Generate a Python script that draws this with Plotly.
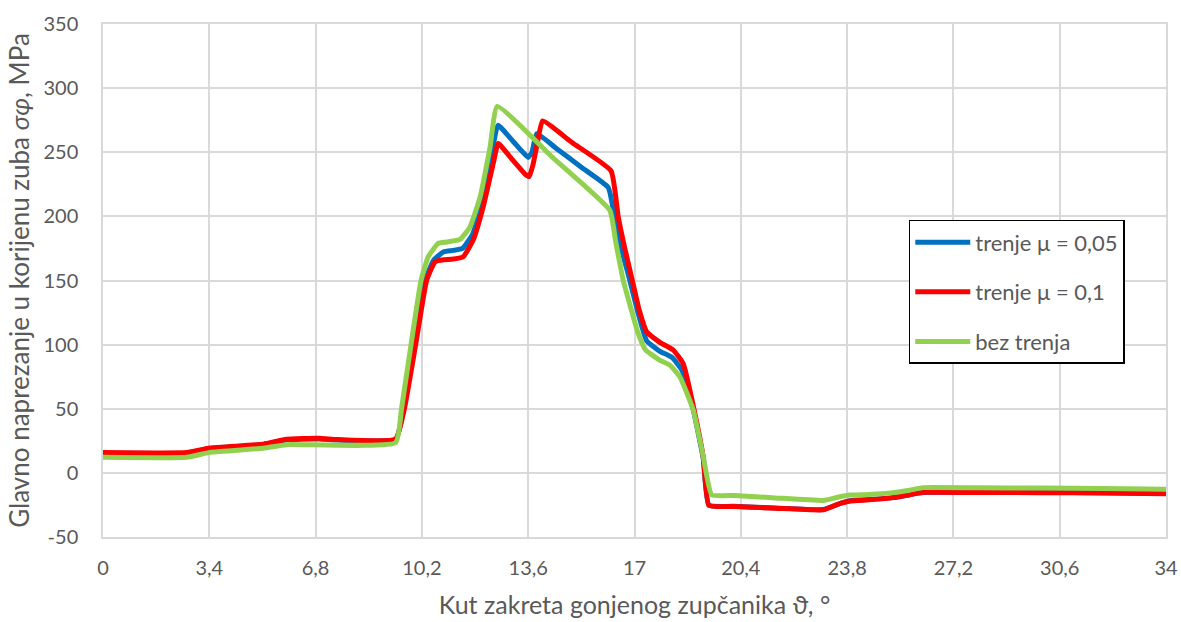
import plotly.graph_objects as go

# ---- data ----
x_blue = [0, 2.68, 3.42, 5.13, 5.87, 6.9, 7.5, 9.36, 9.62, 9.97, 10.3, 10.58, 10.9, 11.2, 11.5, 11.82, 12.12, 12.42, 12.63, 13.1, 13.6, 13.72, 13.87,
          14.5, 15.3, 16.16, 16.36, 16.58, 16.85, 17.1, 17.39, 17.8, 18.2, 18.52, 18.88, 19.2, 19.38, 20.16, 21.5, 23.04, 23.5, 23.89, 24.5,
          25.27, 25.8, 26.23, 28, 30, 32, 34]
y_blue = [15.4, 15.4, 19.0, 22.1, 25.8, 26.4, 25.6, 26.1, 50, 100, 150, 166, 172.4, 173.5, 175, 186, 210, 246, 271, 259, 246, 250, 264.5,
          253, 238.3, 222.5, 200, 175, 150, 126, 103, 95, 90, 80, 49, 11, -25.2, -26.1, -27.4, -28.6, -24.5, -21.8, -20.8,
          -19.3, -17.0, -15.3, -15.3, -15.3, -15.5, -16.1]

x_red = [0, 2.68, 3.42, 5.13, 5.87, 6.9, 7.5, 9.36, 9.64, 10.0, 10.35, 10.62, 10.9, 11.15, 11.52, 11.84, 12.16, 12.48, 12.64, 13.1, 13.5, 13.63,
         13.75, 13.9, 14.06, 15.0, 16.25, 16.48, 16.7, 16.93, 17.15, 17.39, 17.8, 18.24, 18.56, 18.9, 19.2, 19.38, 20.16, 21.5, 23.04,
         23.5, 23.89, 24.5, 25.27, 25.8, 26.23, 28, 30, 32, 34]
y_red = [15.8, 15.8, 19.4, 22.4, 26.2, 27.0, 26.0, 26.4, 50, 100, 150, 164.6, 166.2, 166.5, 168.5, 181.5, 207.4, 241, 256.8, 244, 233, 231,
         240, 258, 274.4, 257.6, 235.5, 199.6, 174, 150, 127, 110, 102, 95.8, 85, 50, 12, -25.4, -26.2, -27.5, -28.8,
         -24.5, -22, -21, -19.3, -17, -15.2, -15.3, -15.4, -15.6, -16.3]

x_green = [0, 2.68, 3.42, 5.13, 5.87, 9.36, 9.55, 9.85, 10.17, 10.4, 10.72, 11.0, 11.42, 11.74, 12.06, 12.38, 12.61, 14.4, 16.21,
           16.4, 16.64, 16.9, 17.1, 17.35, 17.8, 18.13, 18.45, 18.88, 19.2, 19.47, 20.2, 21.5, 23.04, 23.5, 23.89, 24.5, 25.27,
           25.8, 26.23, 28, 30, 32, 34]
y_green = [12.2, 12.2, 16.0, 19.2, 22.0, 23.6, 50.4, 99.7, 149.8, 168.5, 178.9, 180, 182, 191.8, 215, 254, 285.8, 245.5, 204.8,
           180, 150, 127, 110, 96, 88, 84, 75, 49, 12.7, -17.1, -17.6, -19.5, -21.5, -19, -17.3, -16.8, -15.4,
           -13.5, -11.5, -11.6, -11.8, -12.1, -12.7]

series_names = ["trenje \u03bc = 0,05", "trenje \u03bc = 0,1", "bez trenja"]
series_colors = ["#0070C0", "#FF0000", "#92D050"]

x_tick_vals = [0, 3.4, 6.8, 10.2, 13.6, 17, 20.4, 23.8, 27.2, 30.6, 34]
x_tick_text = ["0", "3,4", "6,8", "10,2", "13,6", "17", "20,4", "23,8", "27,2", "30,6", "34"]
y_tick_vals = [-50, 0, 50, 100, 150, 200, 250, 300, 350]
y_tick_text = ["-50", "0", "50", "100", "150", "200", "250", "300", "350"]

x_title = "Kut zakreta gonjenog zup\u010danika \u03d1, \u00b0"
y_title = "Glavno naprezanje u korijenu zuba <i>\u03c3\u03c6</i>, MPa"

FONT = "Lato, 'Open Sans', sans-serif"
TXT = "#595959"
GRID = "#d9d9d9"

fig = go.Figure()
for xs, ys, name, col in zip([x_blue, x_red, x_green], [y_blue, y_red, y_green], series_names, series_colors):
    fig.add_trace(go.Scatter(x=xs, y=ys, mode="lines", name=name, legendgroup=name,
                             line=dict(color=col, width=5, shape="spline", smoothing=0.4)))

fig.update_layout(
    width=1181, height=622,
    margin=dict(l=103, r=15, t=24, b=85),
    paper_bgcolor="white", plot_bgcolor="white",
    font=dict(family=FONT, size=20, color=TXT),
    showlegend=True,
    legend=dict(x=0.758, y=0.618, xanchor="left", yanchor="top",
                bordercolor="black", borderwidth=1.5, bgcolor="white",
                font=dict(family=FONT, size=22, color=TXT),
                itemwidth=55, tracegroupgap=18),
)
fig.update_xaxes(range=[0, 34], tickvals=x_tick_vals, ticktext=x_tick_text,
                 showgrid=True, gridcolor=GRID, gridwidth=1.5,
                 showline=True, linecolor=GRID, linewidth=1.5, mirror=True,
                 zeroline=False, ticks="", ticklabelstandoff=12, automargin=False,
                 tickfont=dict(family=FONT, size=20, color=TXT),
                 title=dict(text=x_title, font=dict(family=FONT, size=25, color=TXT), standoff=19))
fig.update_yaxes(range=[-50, 350], tickvals=y_tick_vals, ticktext=y_tick_text,
                 showgrid=True, gridcolor=GRID, gridwidth=1.5,
                 showline=True, linecolor=GRID, linewidth=1.5, mirror=True,
                 zeroline=False, ticks="", ticklabelstandoff=19, automargin=False,
                 tickfont=dict(family=FONT, size=20, color=TXT),
                 title=dict(text=y_title, font=dict(family=FONT, size=26, color=TXT), standoff=6))

fig.write_html("out.html", config={"displayModeBar": False},
               post_script="document.body.style.margin='0';document.body.style.overflow='hidden';")
